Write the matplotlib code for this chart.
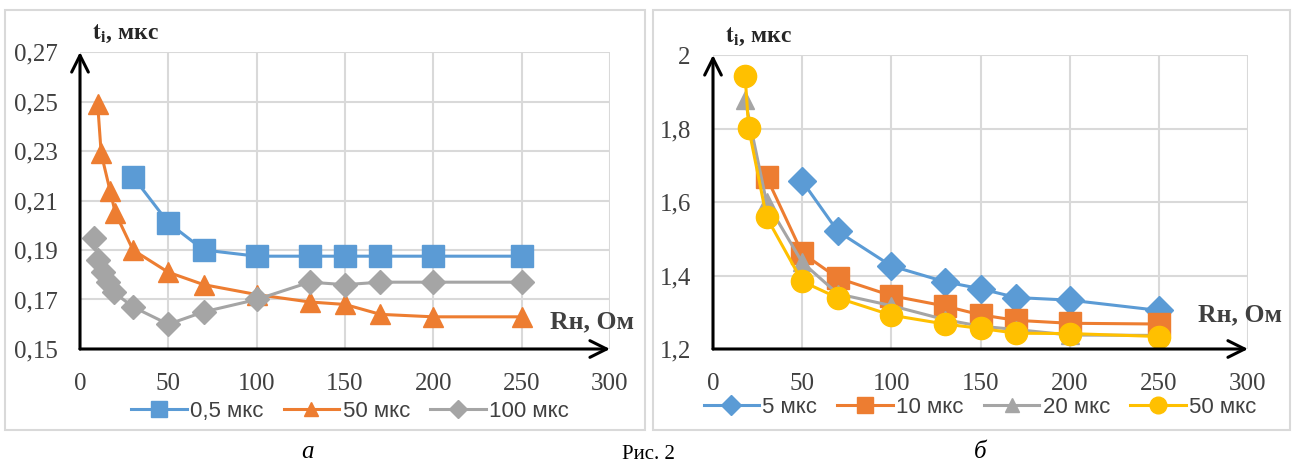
import matplotlib.pyplot as plt
from matplotlib.patches import Rectangle

# --- data: panel a ---
x_a1 = [30, 50, 70, 100, 130, 150, 170, 200, 250]
y_a1 = [0.2196, 0.201, 0.190, 0.1875, 0.1875, 0.1875, 0.1875, 0.1875, 0.1875]
x_a2 = [10, 12, 17, 20, 30, 50, 70, 100, 130, 150, 170, 200, 250]
y_a2 = [0.249, 0.229, 0.214, 0.205, 0.190, 0.181, 0.176, 0.172, 0.169, 0.168, 0.164, 0.163, 0.163]
x_a3 = [8, 10, 13, 16, 19, 30, 50, 70, 100, 130, 150, 170, 200, 250]
y_a3 = [0.195, 0.186, 0.181, 0.177, 0.173, 0.167, 0.160, 0.165, 0.170, 0.177, 0.176, 0.177, 0.177, 0.177]
labels_a = ["0,5 мкс", "50 мкс", "100 мкс"]

# --- data: panel b ---
x_b1 = [50, 70, 100, 130, 150, 170, 200, 250]
y_b1 = [1.657, 1.520, 1.426, 1.383, 1.364, 1.340, 1.333, 1.305]
x_b2 = [30, 50, 70, 100, 130, 150, 170, 200, 250]
y_b2 = [1.668, 1.461, 1.393, 1.345, 1.317, 1.293, 1.278, 1.270, 1.268]
x_b3 = [18, 30, 50, 70, 100, 130, 150, 170, 200, 250]
y_b3 = [1.878, 1.600, 1.436, 1.350, 1.318, 1.280, 1.262, 1.253, 1.238, 1.237]
x_b4 = [18, 20, 30, 50, 70, 100, 130, 150, 170, 200, 250]
y_b4 = [1.944, 1.801, 1.559, 1.384, 1.339, 1.292, 1.268, 1.256, 1.243, 1.242, 1.234]
labels_b = ["5 мкс", "10 мкс", "20 мкс", "50 мкс"]

yticks_a = [0.15, 0.17, 0.19, 0.21, 0.23, 0.25, 0.27]
yticks_b = [1.2, 1.4, 1.6, 1.8, 2.0]
xticks = [0, 50, 100, 150, 200, 250, 300]

BLUE = "#5B9BD5"
ORANGE = "#ED7D31"
GRAY = "#A5A5A5"
YELLOW = "#FFC000"
TXT = "#404040"

W, H = 1293, 465
fig = plt.figure(figsize=(W / 100, H / 100), dpi=100)
fig.patch.set_facecolor("white")
plt.rcParams["mathtext.fontset"] = "stix"


def px_axes(x0, x1, ytop, ybot):
    return fig.add_axes([x0 / W, 1 - ybot / H, (x1 - x0) / W, (ybot - ytop) / H])


def comma(v):
    return ("%g" % v).replace(".", ",")


# chart frames
for fx0, fx1 in [(5, 645), (653, 1290)]:
    fig.patches.append(Rectangle((fx0 / W, 1 - 430 / H), (fx1 - fx0) / W, (430 - 10) / H,
                                 transform=fig.transFigure, facecolor="white",
                                 edgecolor="#D9D9D9", lw=1.5, zorder=-5))


def style(ax, yticks, ylim, rpos):
    ax.set_xlim(0, 300)
    ax.set_ylim(*ylim)
    ax.set_xticks(xticks)
    ax.set_yticks(yticks)
    ax.set_xticklabels([str(t) for t in xticks])
    ax.set_yticklabels([comma(t) for t in yticks])
    ax.grid(True, color="#D9D9D9", lw=1.5)
    ax.set_axisbelow(True)
    for s in ax.spines.values():
        s.set_visible(False)
    ax.tick_params(length=0, labelsize=18)
    ax.tick_params(axis="y", pad=16)
    ax.tick_params(axis="x", pad=17)
    for lab in ax.get_xticklabels() + ax.get_yticklabels():
        lab.set_fontfamily("Liberation Serif")
        lab.set_color(TXT)
    ax.patch.set_alpha(0)
    arr = dict(arrowstyle="->", color="black", lw=2.2, mutation_scale=30, shrinkA=0, shrinkB=0)
    ax.annotate("", xy=(0, 1.0), xytext=(0, 0), xycoords="axes fraction", arrowprops=arr,
                annotation_clip=False)
    ax.annotate("", xy=(1.0, 0), xytext=(0, 0), xycoords="axes fraction", arrowprops=arr,
                annotation_clip=False)
    ax.text(0.022, 1.025, r"$\mathbf{t}_\mathbf{i}$, мкс", transform=ax.transAxes,
            fontfamily="Liberation Serif", fontweight="bold", fontsize=17, va="bottom",
            ha="left", color="#262626")
    ax.text(rpos[0], rpos[1], "Rн, Ом", transform=ax.transAxes, fontfamily="Liberation Serif",
            fontweight="bold", fontsize=18.5, va="center", ha="left", color=TXT)


leg_kw = dict(loc="center", ncol=4, frameon=False, handlelength=2.5, handletextpad=0.15,
              columnspacing=0.9, labelcolor=TXT, prop={"family": "Liberation Sans", "size": 16})

# panel a
ax1 = px_axes(80, 610, 52, 349)
style(ax1, yticks_a, (0.15, 0.27), (0.887, 0.09))
ax1.plot(x_a1, y_a1, color=BLUE, lw=2.2, marker="s", ms=16, label=labels_a[0])
ax1.plot(x_a2, y_a2, color=ORANGE, lw=2.2, marker="^", ms=14, label=labels_a[1])
ax1.plot(x_a3, y_a3, color=GRAY, lw=2.2, marker="D", ms=12, label=labels_a[2])
ax1.legend(bbox_to_anchor=(350 / W, 1 - 411 / H), bbox_transform=fig.transFigure,
           markerscale=0.75, **leg_kw)

# panel b
ax2 = px_axes(713, 1248, 55, 349)
style(ax2, yticks_b, (1.2, 2.0), (0.906, 0.115))
ax2.plot(x_b1, y_b1, color=BLUE, lw=2.2, marker="D", ms=14, label=labels_b[0])
ax2.plot(x_b2, y_b2, color=ORANGE, lw=2.2, marker="s", ms=16, label=labels_b[1])
ax2.plot(x_b3, y_b3, color=GRAY, lw=2.2, marker="^", ms=13, label=labels_b[2])
ax2.plot(x_b4, y_b4, color=YELLOW, lw=2.2, marker="o", ms=16, label=labels_b[3])
ax2.legend(bbox_to_anchor=(980 / W, 1 - 407 / H), bbox_transform=fig.transFigure,
           markerscale=0.75, **leg_kw)

# captions
fig.text(308 / W, 1 - 452 / H, "а", fontfamily="Liberation Serif", style="italic",
         fontsize=18, ha="center", va="center")
fig.text(980 / W, 1 - 452 / H, "б", fontfamily="Liberation Serif", style="italic",
         fontsize=18, ha="center", va="center")
fig.text(648 / W, 1 - 464 / H, "Рис. 2", fontfamily="Liberation Serif",
         fontsize=15, ha="center", va="bottom")

fig.savefig("out.png", dpi=100)
